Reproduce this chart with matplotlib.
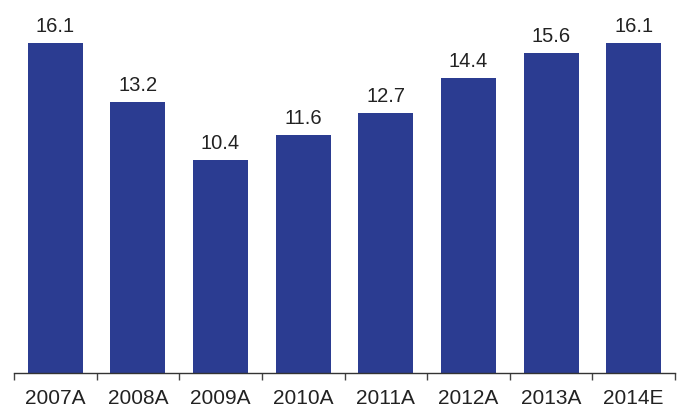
import matplotlib
matplotlib.use("Agg")
import matplotlib.pyplot as plt
import numpy as np

# Data
years = ["2007A", "2008A", "2009A", "2010A", "2011A", "2012A", "2013A", "2014E"]
values = [16.1, 13.2, 10.4, 11.6, 12.7, 14.4, 15.6, 16.1]

bar_color = "#2B3C91"

plt.rcParams["font.family"] = ["Liberation Sans", "DejaVu Sans"]

fig = plt.figure(figsize=(6.83, 4.10), dpi=100)
ax = fig.add_axes([14 / 683, 36 / 410, 661 / 683, 374 / 410])

x = np.arange(len(years))
ax.bar(x, values, width=0.666, color=bar_color)

for xi, v in zip(x, values):
    ax.text(xi, v + 0.58, f"{v:.1f}", ha="center", va="baseline", fontsize=14.5, color="#222222")

ax.set_xlim(-0.5, len(years) - 0.5)
ax.set_ylim(0, 18.24)

# category labels centred, ticks at boundaries
ax.set_xticks(x)
ax.set_xticklabels(years, fontsize=15, color="#222222")
ax.tick_params(axis="x", which="major", length=0, pad=10.5)
ax.set_xticks(np.arange(-0.5, len(years)), minor=True)
ax.tick_params(axis="x", which="minor", length=5, width=1, color="#444444", direction="out")

ax.set_yticks([])
for side in ["left", "right", "top"]:
    ax.spines[side].set_visible(False)
ax.spines["bottom"].set_color("#333333")
ax.spines["bottom"].set_linewidth(1)

fig.savefig("out.png", dpi=100)
